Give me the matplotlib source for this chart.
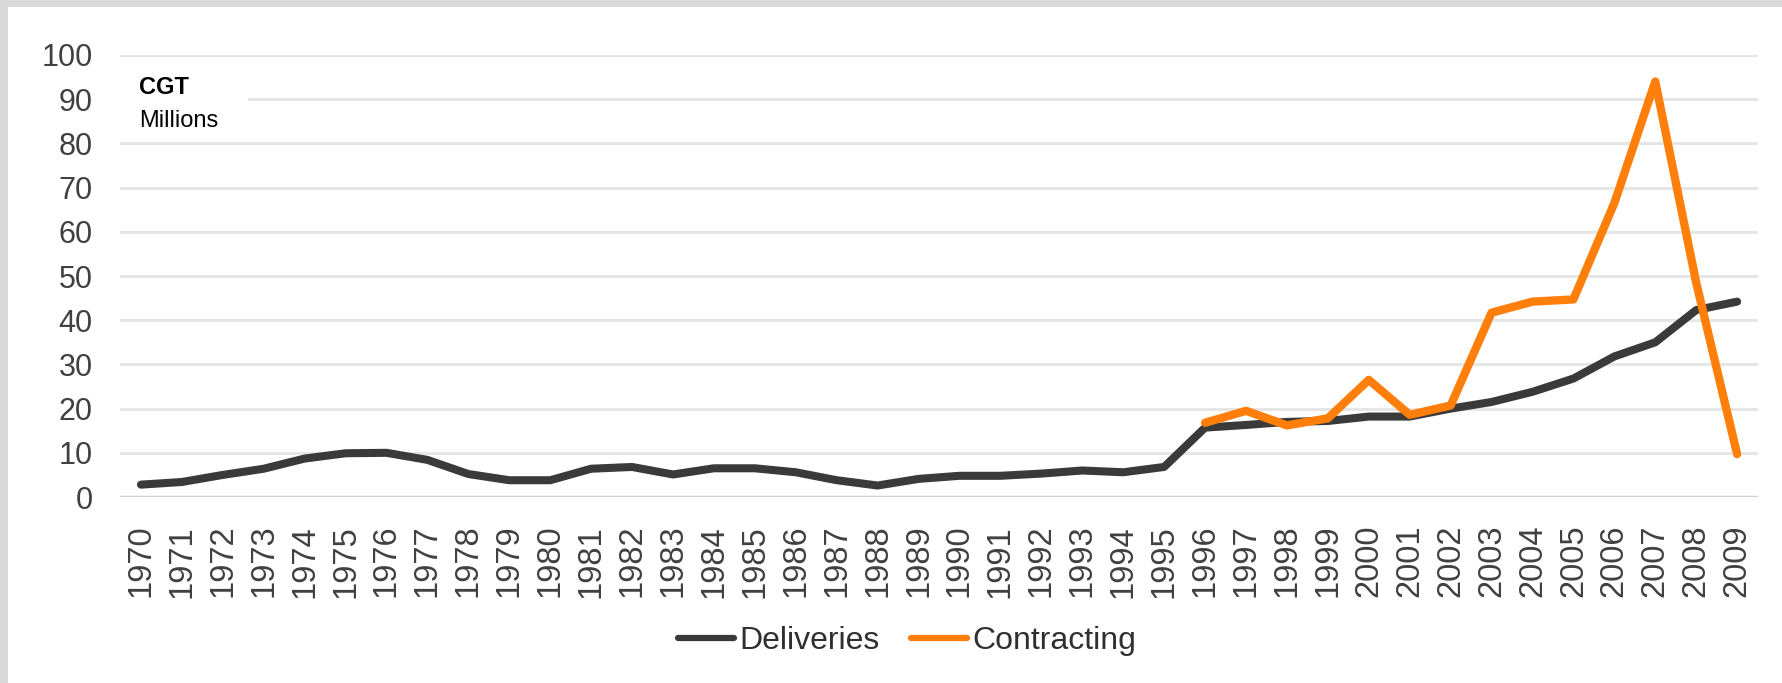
import numpy as np
import matplotlib
matplotlib.use("Agg")
import matplotlib.pyplot as plt
from matplotlib.patches import Rectangle

plt.rcParams['font.family'] = ['Liberation Sans', 'DejaVu Sans']

# data
years = [str(y) for y in range(1970, 2010)]
deliveries = [2.8, 3.4, 5.0, 6.4, 8.7, 9.9, 10.0, 8.4, 5.2, 3.8,
              3.8, 6.4, 6.8, 5.1, 6.5, 6.5, 5.6, 3.8, 2.6, 4.1,
              4.8, 4.8, 5.3, 6.0, 5.6, 6.8, 15.7, 16.3, 17.0, 17.2,
              18.2, 18.2, 20.0, 21.5, 23.8, 26.8, 31.8, 35.0, 42.3, 44.2]
contracting_years = [str(y) for y in range(1996, 2010)]
contracting = [16.8, 19.5, 16.2, 17.8, 26.5, 18.6, 20.7, 41.7, 44.2, 44.7,
               66.5, 94.0, 48.5, 9.7]
yticks = [0, 10, 20, 30, 40, 50, 60, 70, 80, 90, 100]

fig = plt.figure(figsize=(17.82, 6.83), dpi=100)
fig.patch.set_facecolor('white')

# light gray frame along top and left edge
fig.patches.append(Rectangle((0, 1 - 7 / 683), 1, 7 / 683, transform=fig.transFigure,
                             facecolor='#d9d9d9', edgecolor='none', zorder=0))
fig.patches.append(Rectangle((0, 0), 8 / 1782, 1, transform=fig.transFigure,
                             facecolor='#d9d9d9', edgecolor='none', zorder=0))

ax = fig.add_axes([0.0676, 0.2723, 0.9187, 0.6472])

x = np.arange(len(years))
xc = np.array([years.index(y) for y in contracting_years])

ax.plot(x, deliveries, color='#3a3a3a', lw=5.8, solid_joinstyle='round',
        solid_capstyle='round', label='Deliveries', zorder=3)
ax.plot(xc, contracting, color='#ff7f0a', lw=6.0, solid_joinstyle='round',
        solid_capstyle='round', label='Contracting', zorder=4)

ax.set_xlim(-0.5, len(years) - 0.5)
ax.set_ylim(0, 100)
ax.set_xticks(x)
ax.set_xticklabels(years, rotation=90)
ax.set_yticks(yticks)
ax.tick_params(axis='both', length=0, colors='#404040')
ax.tick_params(axis='y', pad=20, labelsize=22)
ax.tick_params(axis='x', pad=20, labelsize=23.5)

for y in yticks:
    ax.axhline(y, color='#d0d0d0' if y == 0 else '#e6e6e6',
               lw=2.5 if y == 0 else 2.2, zorder=1)
for s in ax.spines.values():
    s.set_visible(False)

# unit label box in the top-left corner
ax.add_patch(Rectangle((0, 0.812), 0.078, 0.177, transform=ax.transAxes,
                       facecolor='white', edgecolor='none', zorder=2))
ax.text(0.0113, 0.912, 'CGT', transform=ax.transAxes, fontsize=17,
        fontweight='bold', color='black', va='baseline', zorder=5)
ax.text(0.0113, 0.837, 'Millions', transform=ax.transAxes, fontsize=17,
        color='black', va='baseline', zorder=5)

leg = fig.legend(loc='center', bbox_to_anchor=(0.509, 0.0615), ncol=2,
                 frameon=False, fontsize=23, handlelength=1.75,
                 handletextpad=0.15, columnspacing=1.0)
for line in leg.get_lines():
    line.set_linewidth(4.5)
for t in leg.get_texts():
    t.set_color('#303030')

fig.savefig('out.png', dpi=100)
